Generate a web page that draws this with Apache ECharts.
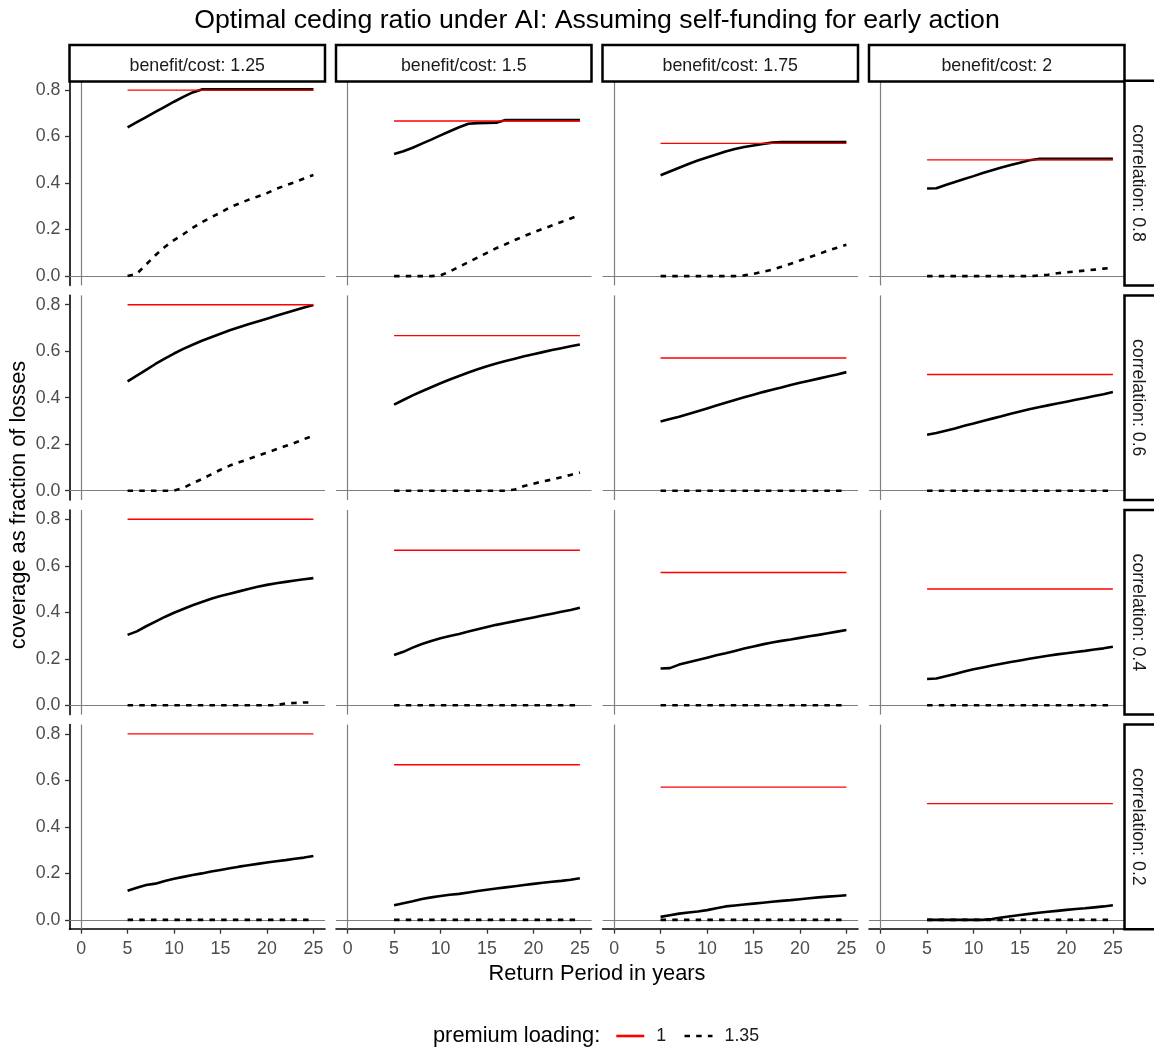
<!DOCTYPE html>
<html>
<head>
<meta charset="utf-8">
<script src="https://cdn.jsdelivr.net/npm/echarts@6/dist/echarts.min.js"></script>
<style>
html,body{margin:0;padding:0;background:#ffffff;}
#chart{width:1154px;height:1048px;}
</style>
</head>
<body>
<div id="chart"></div>
<script>
// ---------------- data ----------------
const years = [5,6,7,8,9,10,11,12,13,14,15,16,17,18,19,20,21,22,23,24,25];
const benefitCost = ['1.25','1.5','1.75','2'];
const correlations = ['0.8','0.6','0.4','0.2'];
const xTicks = [0,5,10,15,20,25];
const yTicks = [0,0.2,0.4,0.6,0.8];
const upperBound = [0.8,0.667,0.571,0.5];   // red reference line per benefit/cost column

// correlation 0.8 : premium loading 1 (solid) and 1.35 (dashed)
const s08_125 = [0.64,0.662,0.684,0.706,0.728,0.75,0.771,0.79,0.803,0.803,0.803,0.803,0.803,0.803,0.803,0.803,0.803,0.803,0.803,0.803,0.803];
const d08_125 = [0,0.01,0.05,0.09,0.125,0.155,0.18,0.207,0.232,0.253,0.273,0.296,0.312,0.328,0.342,0.357,0.375,0.39,0.404,0.42,0.435];
const s08_15  = [0.525,0.537,0.552,0.57,0.587,0.605,0.623,0.64,0.655,0.658,0.659,0.66,0.671,0.671,0.671,0.671,0.671,0.671,0.671,0.671,0.671];
const d08_15  = [0,0,0,0,0,0.003,0.02,0.04,0.06,0.08,0.1,0.12,0.137,0.155,0.172,0.188,0.203,0.218,0.233,0.248,0.262];
const s08_175 = [0.434,0.45,0.466,0.482,0.497,0.51,0.523,0.536,0.547,0.555,0.562,0.568,0.574,0.577,0.577,0.577,0.577,0.577,0.577,0.577,0.577];
const d08_175 = [0,0,0,0,0,0,0,0,0,0.003,0.01,0.018,0.028,0.04,0.053,0.067,0.081,0.095,0.109,0.122,0.135];
const s08_2   = [0.377,0.378,0.392,0.405,0.418,0.43,0.443,0.455,0.467,0.478,0.488,0.498,0.504,0.504,0.504,0.504,0.504,0.504,0.504,0.504,0.504];
const d08_2   = [0,0,0,0,0,0,0,0,0,0,0,0,0.002,0.006,0.012,0.016,0.02,0.024,0.028,0.032,0.036];

// correlation 0.6
const s06_125 = [0.47,0.495,0.52,0.545,0.568,0.59,0.61,0.628,0.645,0.66,0.675,0.69,0.703,0.716,0.728,0.74,0.752,0.764,0.776,0.788,0.799];
const d06_125 = [0,0,0,0,0,0,0.012,0.032,0.05,0.07,0.09,0.108,0.122,0.136,0.15,0.164,0.178,0.192,0.206,0.222,0.237];
const s06_15  = [0.37,0.39,0.41,0.428,0.445,0.462,0.478,0.493,0.508,0.522,0.535,0.547,0.558,0.568,0.578,0.587,0.596,0.605,0.613,0.621,0.629];
const d06_15  = [0,0,0,0,0,0,0,0,0,0,0,0,0,0.005,0.02,0.03,0.04,0.048,0.058,0.068,0.078];
const s06_175 = [0.298,0.308,0.318,0.33,0.342,0.354,0.366,0.378,0.39,0.402,0.413,0.424,0.434,0.444,0.455,0.464,0.473,0.482,0.491,0.5,0.51];
const d06_175 = [0,0,0,0,0,0,0,0,0,0,0,0,0,0,0,0,0,0,0,0,0];
const s06_2   = [0.241,0.248,0.258,0.268,0.279,0.289,0.3,0.31,0.32,0.331,0.341,0.35,0.359,0.367,0.375,0.383,0.391,0.399,0.407,0.415,0.425];
const d06_2   = [0,0,0,0,0,0,0,0,0,0,0,0,0,0,0,0,0,0,0,0,0];

// correlation 0.4
const s04_125 = [0.303,0.318,0.34,0.36,0.38,0.398,0.414,0.43,0.444,0.458,0.47,0.48,0.49,0.5,0.51,0.518,0.525,0.531,0.537,0.542,0.547];
const d04_125 = [0,0,0,0,0,0,0,0,0,0,0,0,0,0,0,0,0,0.008,0.01,0.012,0.012];
const s04_15  = [0.216,0.23,0.248,0.264,0.277,0.288,0.298,0.307,0.317,0.327,0.337,0.346,0.354,0.362,0.37,0.378,0.386,0.394,0.402,0.41,0.42];
const d04_15  = [0,0,0,0,0,0,0,0,0,0,0,0,0,0,0,0,0,0,0,0,0];
const s04_175 = [0.158,0.16,0.175,0.185,0.195,0.205,0.215,0.224,0.234,0.244,0.253,0.262,0.27,0.277,0.283,0.29,0.297,0.303,0.31,0.317,0.324];
const d04_175 = [0,0,0,0,0,0,0,0,0,0,0,0,0,0,0,0,0,0,0,0,0];
const s04_2   = [0.113,0.115,0.125,0.135,0.145,0.155,0.163,0.171,0.179,0.186,0.193,0.2,0.207,0.213,0.219,0.224,0.229,0.234,0.24,0.245,0.252];
const d04_2   = [0,0,0,0,0,0,0,0,0,0,0,0,0,0,0,0,0,0,0,0,0];

// correlation 0.2
const s02_125 = [0.125,0.138,0.15,0.156,0.167,0.177,0.185,0.193,0.2,0.208,0.215,0.222,0.229,0.235,0.241,0.247,0.252,0.257,0.263,0.268,0.275];
const d02_125 = [0,0,0,0,0,0,0,0,0,0,0,0,0,0,0,0,0,0,0,0,0];
const s02_15  = [0.063,0.072,0.08,0.09,0.097,0.103,0.108,0.112,0.118,0.124,0.13,0.135,0.14,0.145,0.15,0.155,0.16,0.164,0.168,0.173,0.179];
const d02_15  = [0,0,0,0,0,0,0,0,0,0,0,0,0,0,0,0,0,0,0,0,0];
const s02_175 = [0.013,0.02,0.027,0.032,0.036,0.042,0.05,0.058,0.062,0.066,0.07,0.074,0.078,0.082,0.085,0.089,0.093,0.097,0.1,0.103,0.106];
const d02_175 = [0,0,0,0,0,0,0,0,0,0,0,0,0,0,0,0,0,0,0,0,0];
const s02_2   = [0,0,0,0,0,0,0,0.004,0.01,0.016,0.021,0.026,0.031,0.035,0.039,0.043,0.047,0.05,0.054,0.058,0.063];
const d02_2   = [0,0,0,0,0,0,0,0,0,0,0,0,0,0,0,0,0,0,0,0,0];

const solidRows  = [[s08_125,s08_15,s08_175,s08_2],[s06_125,s06_15,s06_175,s06_2],[s04_125,s04_15,s04_175,s04_2],[s02_125,s02_15,s02_175,s02_2]];
const dashedRows = [[d08_125,d08_15,d08_175,d08_2],[d06_125,d06_15,d06_175,d06_2],[d04_125,d04_15,d04_175,d04_2],[d02_125,d02_15,d02_175,d02_2]];

// ---------------- layout ----------------
const FONT = "'Liberation Sans', Arial, Helvetica, sans-serif";
const L0 = 69.5, PW = 255.5, CSTEP = 266.5;
const T0 = 80.8, PH = 204.6, RSTEP = 214.6;
const DASH = [5.5, 6.2];
const LW = 2.6;

const grids = [], xAxes = [], yAxes = [], series = [], graphics = [];

for (let r = 0; r < 4; r++) {
  for (let c = 0; c < 4; c++) {
    const i = r * 4 + c;
    grids.push({left: L0 + c * CSTEP, top: T0 + r * RSTEP, width: PW, height: PH, outerBoundsMode: 'none', containLabel: false});
    const bottom = (r === 3), left = (c === 0);
    xAxes.push({
      type: 'value', gridIndex: i, min: -1.25, max: 26.25,
      axisLine: {show: bottom, onZero: false, lineStyle: {color: '#000', width: 1.6}},
      axisTick: {show: bottom, customValues: xTicks, length: 4.5, lineStyle: {color: '#333', width: 1.3}},
      axisLabel: {show: bottom, customValues: xTicks, fontSize: 17.8, color: '#4d4d4d', fontFamily: FONT, margin: 11},
      splitLine: {show: false}
    });
    yAxes.push({
      type: 'value', gridIndex: i, min: -0.04, max: 0.84,
      axisLine: {show: left, onZero: false, lineStyle: {color: '#000', width: 1.6}},
      axisTick: {show: left, customValues: yTicks, length: 4.5, lineStyle: {color: '#333', width: 1.3}},
      axisLabel: {show: left, customValues: yTicks, fontSize: 17.8, color: '#4d4d4d', fontFamily: FONT, margin: 9,
                  formatter: v => Number(v).toFixed(1)},
      splitLine: {show: false}
    });
    // grey reference lines at x = 0 and y = 0
    series.push({
      type: 'line', name: 'zero', xAxisIndex: i, yAxisIndex: i, data: [[0, 0]],
      symbol: 'none', lineStyle: {width: 0, opacity: 0}, silent: true, animation: false, z: 1,
      markLine: {silent: true, symbol: ['none', 'none'], label: {show: false}, animation: false, z: 1,
                 lineStyle: {color: '#7f7f7f', width: 1.2, type: 'solid'},
                 emphasis: {disabled: true},
                 data: [{xAxis: 0}, {yAxis: 0}]}
    });
    series.push({
      type: 'line', name: '1', xAxisIndex: i, yAxisIndex: i,
      data: years.map((x, k) => [x, solidRows[r][c][k]]),
      symbol: 'none', showSymbol: false, silent: true, animation: false, z: 3,
      lineStyle: {color: '#000', width: LW, cap: 'butt'}, itemStyle: {color: '#000'}
    });
    series.push({
      type: 'line', name: '1.35', xAxisIndex: i, yAxisIndex: i,
      data: years.map((x, k) => [x, dashedRows[r][c][k]]),
      symbol: 'none', showSymbol: false, silent: true, animation: false, z: 3,
      lineStyle: {color: '#000', width: LW, type: DASH, cap: 'butt'}, itemStyle: {color: '#000'}
    });
    series.push({
      type: 'line', name: 'upper bound', xAxisIndex: i, yAxisIndex: i,
      data: [[years[0], upperBound[c]], [years[years.length - 1], upperBound[c]]],
      symbol: 'none', showSymbol: false, silent: true, animation: false, z: 4,
      lineStyle: {color: '#ff0000', width: 1.4}, itemStyle: {color: '#ff0000'}
    });
  }
}

// facet strips
for (let c = 0; c < 4; c++) {
  const x = L0 + c * CSTEP;
  graphics.push({type: 'rect', silent: true, z: 10, shape: {x: x, y: 45, width: PW, height: 36.6},
                 style: {fill: '#ffffff', stroke: '#000', lineWidth: 2.5}});
  graphics.push({type: 'text', silent: true, z: 11, x: x + PW / 2, y: 66.1,
                 style: {text: 'benefit/cost: ' + benefitCost[c], fontSize: 17.8, fontFamily: FONT, fill: '#1a1a1a',
                         align: 'center', verticalAlign: 'middle', textAlign: 'center', textVerticalAlign: 'middle'}});
}
for (let r = 0; r < 4; r++) {
  const y = T0 + r * RSTEP;
  graphics.push({type: 'rect', silent: true, z: 10, shape: {x: L0 + 3 * CSTEP + PW, y: y, width: 36, height: PH},
                 style: {fill: '#ffffff', stroke: '#000', lineWidth: 2.5}});
  graphics.push({type: 'text', silent: true, z: 11, x: 1138, y: y + PH / 2, rotation: -Math.PI / 2,
                 style: {text: 'correlation: ' + correlations[r], fontSize: 17.8, fontFamily: FONT, fill: '#1a1a1a',
                         align: 'center', verticalAlign: 'middle', textAlign: 'center', textVerticalAlign: 'middle'}});
}
// titles
graphics.push({type: 'text', silent: true, x: 597, y: 20.8,
               style: {text: 'Optimal ceding ratio under AI: Assuming self-funding for early action', fontSize: 26.7, fontFamily: FONT, fill: '#000',
                       align: 'center', verticalAlign: 'middle', textAlign: 'center', textVerticalAlign: 'middle'}});
graphics.push({type: 'text', silent: true, x: 597, y: 974,
               style: {text: 'Return Period in years', fontSize: 21.8, fontFamily: FONT, fill: '#000',
                       align: 'center', verticalAlign: 'middle', textAlign: 'center', textVerticalAlign: 'middle'}});
graphics.push({type: 'text', silent: true, x: 19, y: 505, rotation: Math.PI / 2,
               style: {text: 'coverage as fraction of losses', fontSize: 21.8, fontFamily: FONT, fill: '#000',
                       align: 'center', verticalAlign: 'middle', textAlign: 'center', textVerticalAlign: 'middle'}});
graphics.push({type: 'text', silent: true, x: 433, y: 1035.7,
               style: {text: 'premium loading:', fontSize: 21.8, fontFamily: FONT, fill: '#000',
                       align: 'left', verticalAlign: 'middle', textAlign: 'left', textVerticalAlign: 'middle'}});

const chart = echarts.init(document.getElementById('chart'), null, {renderer: 'canvas'});
chart.setOption({
  backgroundColor: '#ffffff',
  animation: false,
  grid: grids,
  xAxis: xAxes,
  yAxis: yAxes,
  series: series,
  legend: {
    data: [
      {name: '1', itemStyle: {color: '#ff0000', opacity: 0}, lineStyle: {color: '#ff0000', width: LW, type: 'solid'}},
      {name: '1.35', itemStyle: {color: '#000', opacity: 0}, lineStyle: {color: '#000', width: LW, type: DASH}}
    ],
    left: 615, top: 1027, padding: 0, itemWidth: 28, itemHeight: 14, itemGap: 17, selectedMode: false,
    textStyle: {fontSize: 17.8, color: '#1a1a1a', fontFamily: FONT, padding: [0, 0, 0, 7]}
  },
  graphic: {elements: graphics}
});
</script>
</body>
</html>
